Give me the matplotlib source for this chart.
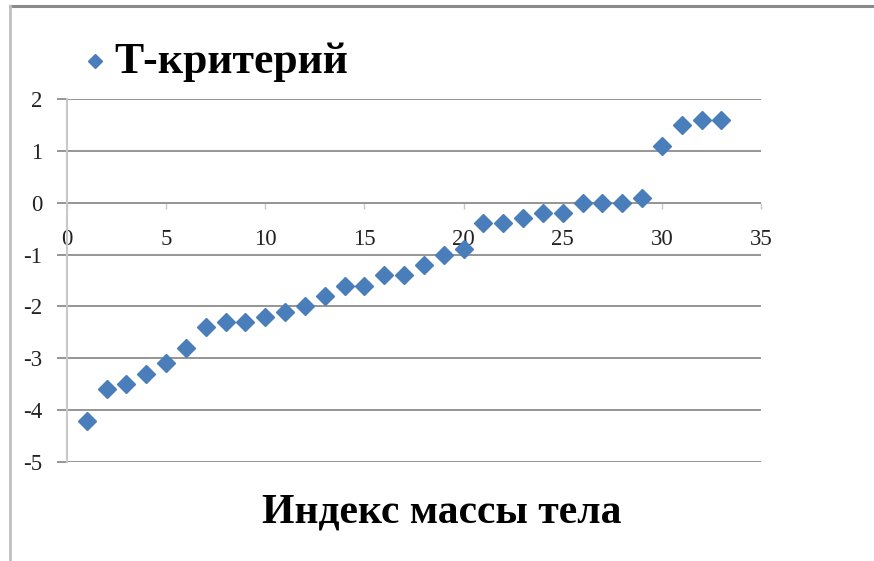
import matplotlib
matplotlib.use("Agg")
import matplotlib.pyplot as plt
from matplotlib.lines import Line2D

x_values = list(range(1, 34))
t_values = [-4.2, -3.6, -3.5, -3.3, -3.1, -2.8, -2.4, -2.3, -2.3, -2.2,
            -2.1, -2.0, -1.8, -1.6, -1.6, -1.4, -1.4, -1.2, -1.0, -0.9,
            -0.4, -0.4, -0.3, -0.2, -0.2, 0.0, 0.0, 0.0, 0.1, 1.1,
            1.5, 1.6, 1.6]
x_ticks = [0, 5, 10, 15, 20, 25, 30, 35]
y_ticks = [-5, -4, -3, -2, -1, 0, 1, 2]
series_name = "Т-критерий"
title_text = "Индекс массы тела"

plt.rcParams['font.family'] = ['Liberation Serif', 'DejaVu Serif']

fig = plt.figure(figsize=(8.74, 5.61), dpi=100)
fig.patch.set_facecolor('white')
ax = fig.add_axes([67/874, 1 - 462/561, (761 - 67)/874, (462 - 99)/561])

blue = '#4a7ebb'
ax.plot(x_values, t_values, linestyle='none', marker='D', markersize=9.2,
        color=blue, markeredgecolor=blue, zorder=3, clip_on=False)

ax.set_xlim(0, 35)
ax.set_ylim(-5, 2)
ax.set_xticks(x_ticks)
ax.set_yticks(y_ticks)
ax.set_yticklabels([str(v) for v in y_ticks])
ax.set_xticklabels([str(v) for v in x_ticks])
ax.yaxis.grid(True, color='#8c8c8c', linewidth=1.3)
ax.set_axisbelow(True)

for s in ['top', 'right']:
    ax.spines[s].set_visible(False)
ax.spines['bottom'].set_position(('data', 0))
ax.spines['bottom'].set_visible(False)
ax.spines['left'].set_color('#c8c8c8')
ax.spines['left'].set_linewidth(1.5)

ax.tick_params(axis='y', length=7, width=1.3, color='#8c8c8c', pad=11,
               labelsize=16.5, labelcolor='#222222')
ax.tick_params(axis='x', direction='out', length=4, width=1.0, color='#c8c8c8',
               pad=15, labelsize=16.5, labelcolor='#222222')

# frame lines of the chart area
fig.add_artist(Line2D([10/874, 1], [1 - 6/561, 1 - 6/561], color='#8a8a8a',
                      linewidth=2.2, transform=fig.transFigure))
fig.add_artist(Line2D([10/874, 10/874], [0, 1 - 6/561], color='#c0c0c0',
                      linewidth=2.0, transform=fig.transFigure))

# legend
fig.add_artist(Line2D([95/874], [1 - 61/561], marker='D', markersize=7,
                      color=blue, linestyle='none', transform=fig.transFigure))
fig.text(114/874, 1 - 62/561, series_name, fontsize=31.5, fontweight='bold',
         va='center', ha='left', color='black')

fig.text(442/874, 1 - 513/561, title_text, fontsize=30, fontweight='bold',
         va='center', ha='center', color='black')

fig.savefig('out.png', dpi=100, facecolor='white')
